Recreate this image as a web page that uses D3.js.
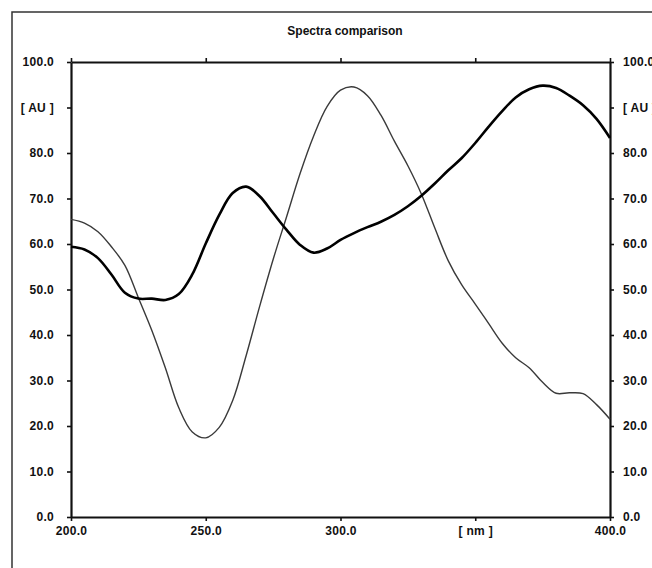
<!DOCTYPE html>
<html>
<head>
<meta charset="utf-8">
<script src="https://cdn.jsdelivr.net/npm/d3@7"></script>
<style>
    body { margin: 0; background: #fff; }
    svg { display: block; }
    .axis text { font-family: "Liberation Sans", Arial, sans-serif; font-size: 12px; font-weight: bold; fill: #111; letter-spacing: 0.3px; }
    .axis path, .axis line { stroke: #111; }
</style>
</head>
<body>
<div id="chart"></div>
<script>
// Wavelength grid (nm) and the two spectra
const wavelengths = d3.range(200, 401, 5);
const thinSpectrum = [
    65.4, 64.6, 62.7, 59.4, 55.3, 48.2, 41.0, 32.8, 24.0, 18.7,
    17.4, 19.7, 25.6, 35.5, 46.3, 56.6, 66.0, 75.5, 83.7, 90.2,
    93.8, 94.5, 92.6, 88.3, 82.6, 77.2, 71.0, 63.5, 56.3, 51.0,
    46.8, 42.5, 38.2, 35.0, 32.8, 29.6, 27.2, 27.3, 27.1, 24.7, 21.5
];
const thickSpectrum = [
    59.4, 58.8, 56.9, 53.3, 49.3, 48.0, 48.0, 47.7, 49.0, 53.3,
    60.1, 66.4, 71.2, 72.6, 70.5, 66.8, 63.1, 59.8, 58.1, 59.0,
    60.9, 62.4, 63.7, 64.9, 66.4, 68.3, 70.6, 73.3, 76.2, 78.9,
    82.2, 85.8, 89.2, 92.2, 94.0, 94.8, 94.3, 92.6, 90.5, 87.5, 83.3
];
const xTicks = [200, 250, 300, 350, 400];
const yTicks = [0, 10, 20, 30, 40, 50, 60, 70, 80, 90, 100];

const width = 652, height = 568;
const margin = { top: 62, right: 42, bottom: 51, left: 71 };

const svg = d3.select("#chart")
    .append("svg")
    .attr("width", width)
    .attr("height", height);

// outer frame (runs off the right and bottom edge)
svg.append("rect")
    .attr("x", 12)
    .attr("y", 12)
    .attr("width", 660)
    .attr("height", 580)
    .style("fill", "none")
    .style("stroke", "#333")
    .style("stroke-width", 1.5);

svg.append("text")
    .attr("x", 345)
    .attr("y", 35)
    .attr("text-anchor", "middle")
    .style("font-family", "'Liberation Sans', Arial, sans-serif")
    .style("font-size", "12px")
    .style("font-weight", "bold")
    .style("fill", "#111")
    .text("Spectra comparison");

const x = d3.scaleLinear()
    .domain([200, 400])
    .range([margin.left, width - margin.right]);

const y = d3.scaleLinear()
    .domain([0, 100])
    .range([height - margin.bottom, margin.top]);

const yFormat = d => d === 90 ? "[ AU ]" : d.toFixed(1);
const xFormat = d => d === 350 ? "[ nm ]" : d.toFixed(1);

// axes
const styleAxis = g => {
    g.attr("class", "axis");
    g.select(".domain").style("stroke-width", 2.2);
    g.selectAll(".tick line").style("stroke-width", 1.6);
};

svg.append("g")
    .attr("transform", `translate(${margin.left},0)`)
    .call(d3.axisLeft(y).tickValues(yTicks).tickSize(4).tickSizeOuter(0).tickPadding(13).tickFormat(yFormat))
    .call(styleAxis);

svg.append("g")
    .attr("transform", `translate(${width - margin.right},0)`)
    .call(d3.axisRight(y).tickValues(yTicks).tickSize(4).tickSizeOuter(0).tickPadding(9).tickFormat(yFormat))
    .call(styleAxis);

svg.append("g")
    .attr("transform", `translate(0,${height - margin.bottom})`)
    .call(d3.axisBottom(x).tickValues(xTicks).tickSize(4).tickSizeOuter(0).tickPadding(5).tickFormat(xFormat))
    .call(styleAxis);

svg.append("g")
    .attr("transform", `translate(0,${margin.top})`)
    .call(d3.axisTop(x).tickValues(xTicks).tickSize(4).tickSizeOuter(0).tickFormat(""))
    .call(styleAxis);

// spectra
const line = values => d3.line()
    .x((d, i) => x(wavelengths[i]))
    .y(d => y(d))
    .curve(d3.curveCatmullRom.alpha(0.5))(values);

svg.append("path")
    .attr("d", line(thinSpectrum))
    .style("fill", "none")
    .style("stroke", "#3a3a3a")
    .style("stroke-width", 1.4);

svg.append("path")
    .attr("d", line(thickSpectrum))
    .style("fill", "none")
    .style("stroke", "#000")
    .style("stroke-width", 2.6);
</script>
</body>
</html>
